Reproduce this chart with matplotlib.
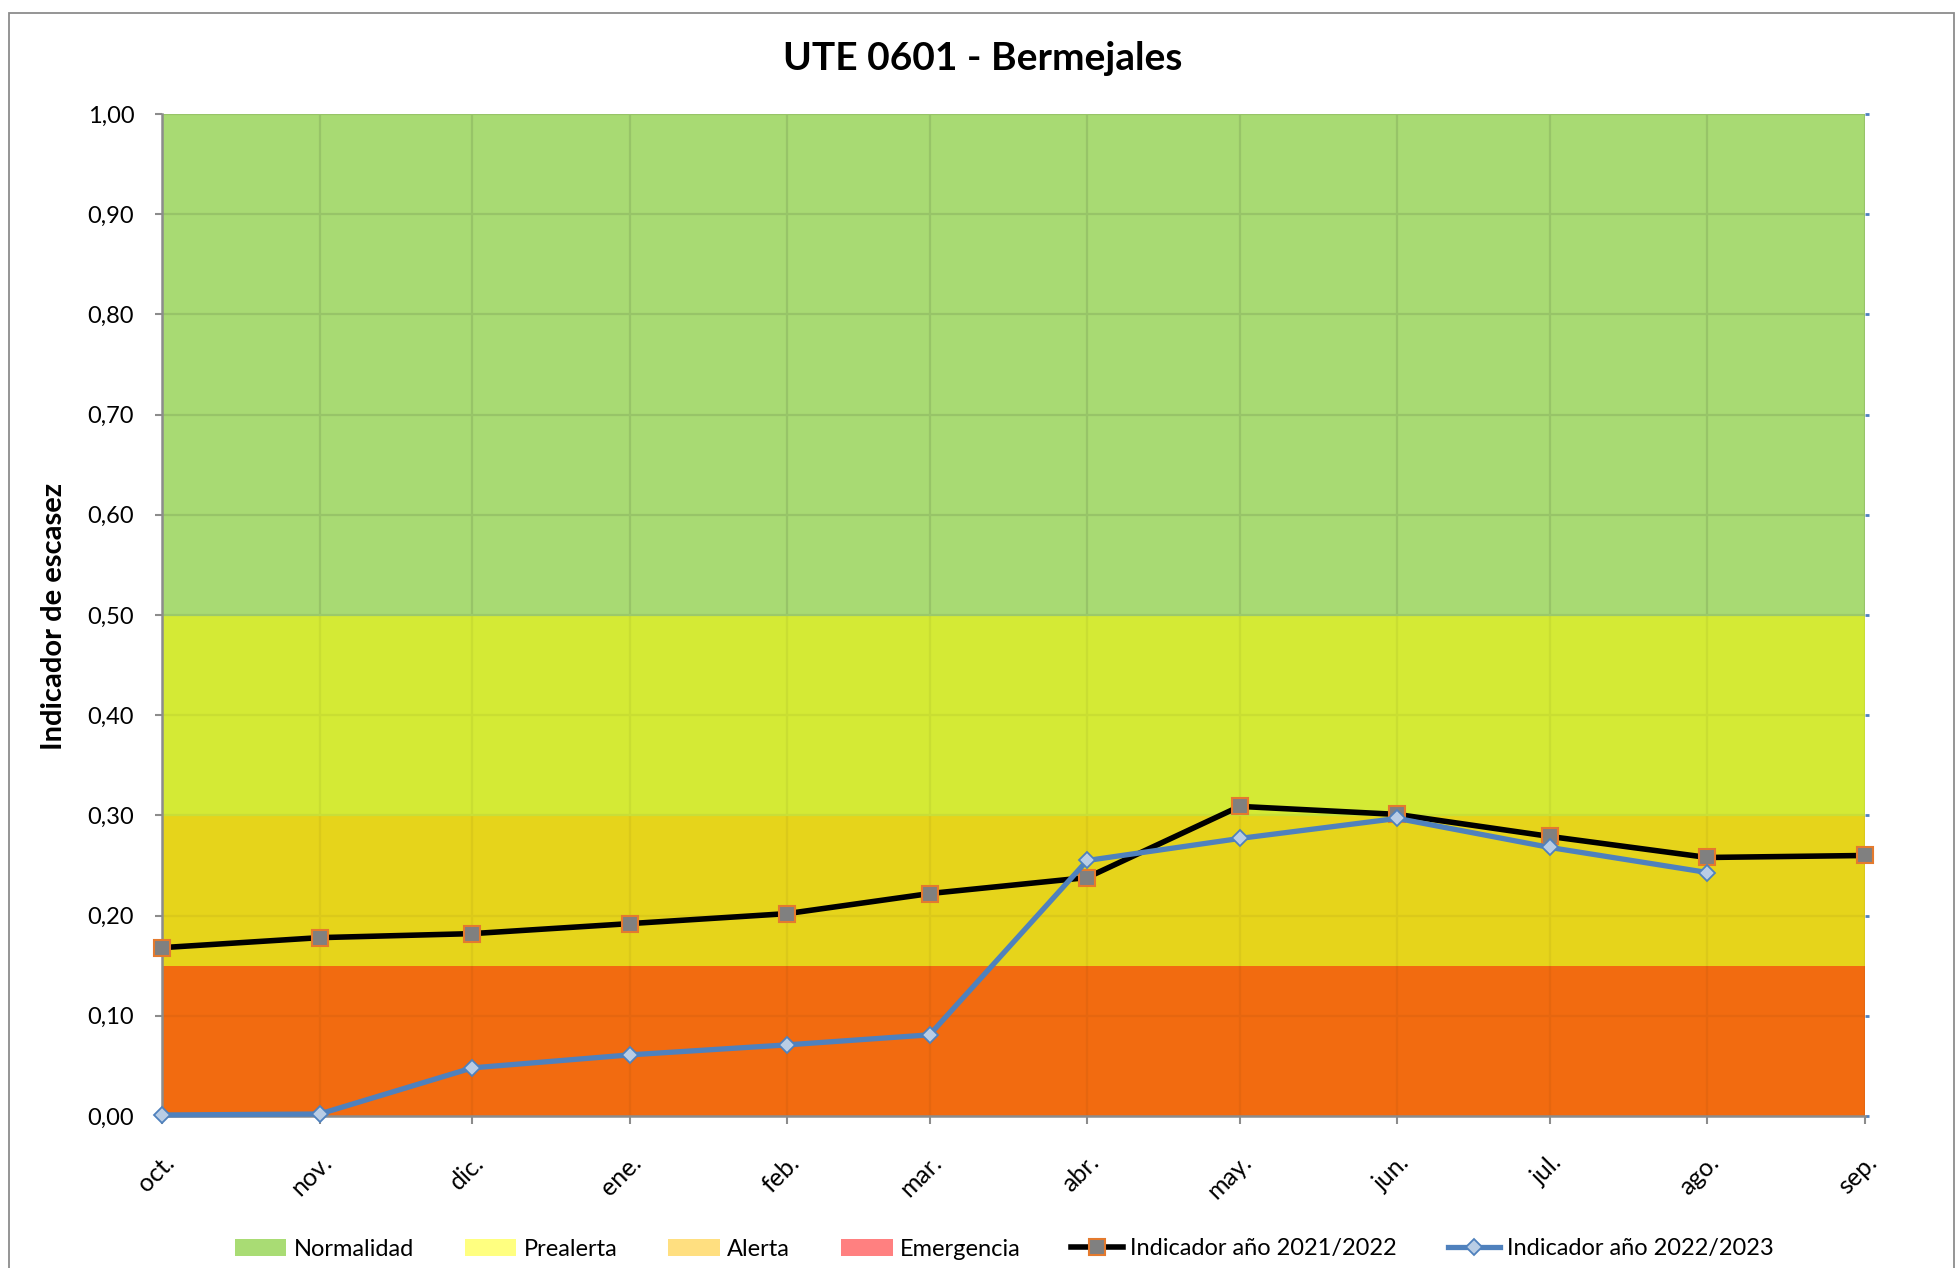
import matplotlib
matplotlib.use("Agg")
import matplotlib.pyplot as plt
import matplotlib.dates as mdates
from matplotlib.patches import Patch, Rectangle
from matplotlib.lines import Line2D
from matplotlib.colors import to_rgb
import numpy as np
import pandas as pd

# ---- data ----
months = ["oct.", "nov.", "dic.", "ene.", "feb.", "mar.", "abr.", "may.", "jun.", "jul.", "ago.", "sep."]
dates = pd.date_range("2022-10-01", periods=12, freq="MS")
ind_2021_2022 = [0.168, 0.178, 0.182, 0.192, 0.202, 0.222, 0.238, 0.309, 0.301, 0.279, 0.258, 0.260]
ind_2022_2023 = [0.001, 0.002, 0.048, 0.061, 0.071, 0.081, 0.255, 0.277, 0.297, 0.268, 0.243]
band_names = ["Normalidad", "Prealerta", "Alerta", "Emergencia"]
band_limits = [(0.50, 1.00), (0.30, 0.50), (0.15, 0.30), (0.00, 0.15)]
band_colors = ["#A8DA73", "#D4EA35", "#E6D41B", "#F26B10"]
legend_colors = ["#A9DC74", "#FFFF80", "#FFDF80", "#FF8080"]
yticks = np.round(np.arange(0, 1.01, 0.1), 2)

plt.rcParams['font.family'] = ['Lato', 'DejaVu Sans']

W, H = 1959, 1268
fig = plt.figure(figsize=(W / 100, H / 100), dpi=100)
fig.patch.set_facecolor("white")

# outer frame
fig.add_artist(Rectangle((9 / W, -0.05), (1954 - 9) / W, 1 - 13 / H + 0.05,
                         transform=fig.transFigure, fill=False,
                         edgecolor="#8C8C8C", linewidth=1.3))

left, right, top, bottom = 162 / W, 1865 / W, 1 - 114 / H, 1 - 1116 / H
ax = fig.add_axes([left, bottom, right - left, top - bottom])

xnum = mdates.date2num(dates)


def darker(c, f):
    r, g, b = to_rgb(c)
    return (r * f, g * f, b * f)


for (lo, hi), c in zip(band_limits, band_colors):
    ax.axhspan(lo, hi, color=c, zorder=0, linewidth=0)
    gc = darker(c, 0.90) if c == band_colors[0] else darker(c, 0.95)
    ax.vlines(xnum, lo, hi, colors=[gc], linewidth=1.6, zorder=1)
    for y in yticks:
        if lo < y < hi or (c == band_colors[0] and y == hi):
            ax.hlines(y, xnum[0], xnum[-1], colors=[gc], linewidth=1.6, zorder=1)
ax.axhline(0.5, color=darker(band_colors[0], 0.92), linewidth=1.6, zorder=1)
ax.axhline(0.3, color="#C8DE38", linewidth=1.6, zorder=1)

ax.set_xlim(xnum[0], xnum[-1])
ax.set_ylim(0, 1)

ax.plot(xnum[:len(ind_2021_2022)], ind_2021_2022, color="black", linewidth=4,
        marker="s", markersize=11.5, markerfacecolor="#808080",
        markeredgecolor="#E47A2E", markeredgewidth=1.5, zorder=3, clip_on=False)
ax.plot(xnum[:len(ind_2022_2023)], ind_2022_2023, color="#4F81BD", linewidth=3.8,
        marker="D", markersize=8.5, markerfacecolor="#B9CDE5",
        markeredgecolor="#4F81BD", markeredgewidth=1.3, zorder=4, clip_on=False)

ax.set_yticks(yticks)
ax.set_yticklabels([f"{v:.2f}".replace(".", ",") for v in yticks], fontsize=17)
ax.set_xticks(xnum)
ax.set_xticklabels(months, fontsize=18, rotation=45, ha="right", va="top",
                   rotation_mode="anchor")
ax.tick_params(axis="y", direction="out", length=5, width=1.5, color="#8C8C8C", pad=15)
ax.tick_params(axis="x", direction="out", length=6, width=1.5, color="#8C8C8C", pad=19)
for s in ["top", "right"]:
    ax.spines[s].set_visible(False)
for s in ["left", "bottom"]:
    ax.spines[s].set_color("#8C8C8C")
    ax.spines[s].set_linewidth(1.8)

sec = ax.secondary_yaxis("right")
sec.set_yticks(yticks)
sec.set_yticklabels([])
sec.tick_params(direction="out", length=3, width=2, color="#4F81BD")
sec.spines["right"].set_visible(False)

fig.text(983 / W, 1 - 58 / H, "UTE 0601 - Bermejales", ha="center", va="center",
         fontsize=28, fontweight="bold")
fig.text(54 / W, 1 - 616 / H, "Indicador de escasez", ha="center", va="center",
         rotation=90, fontsize=21, fontweight="bold")

handles = [Patch(facecolor=c, edgecolor="none") for c in legend_colors]
handles.append(Line2D([], [], color="black", linewidth=4, marker="s", markersize=11.5,
                      markerfacecolor="#808080", markeredgecolor="#E47A2E", markeredgewidth=1.5))
handles.append(Line2D([], [], color="#4F81BD", linewidth=3.8, marker="D", markersize=8.5,
                      markerfacecolor="#B9CDE5", markeredgecolor="#4F81BD", markeredgewidth=1.3))
labels = band_names + ["Indicador año 2021/2022", "Indicador año 2022/2023"]
fig.legend(handles, labels, loc="center", bbox_to_anchor=(1004 / W, 1 - 1249 / H),
           ncol=6, frameon=False, fontsize=17, handlelength=2.2, handleheight=0.7,
           handletextpad=0.3, columnspacing=2.15)

fig.savefig("out.png", dpi=100)
